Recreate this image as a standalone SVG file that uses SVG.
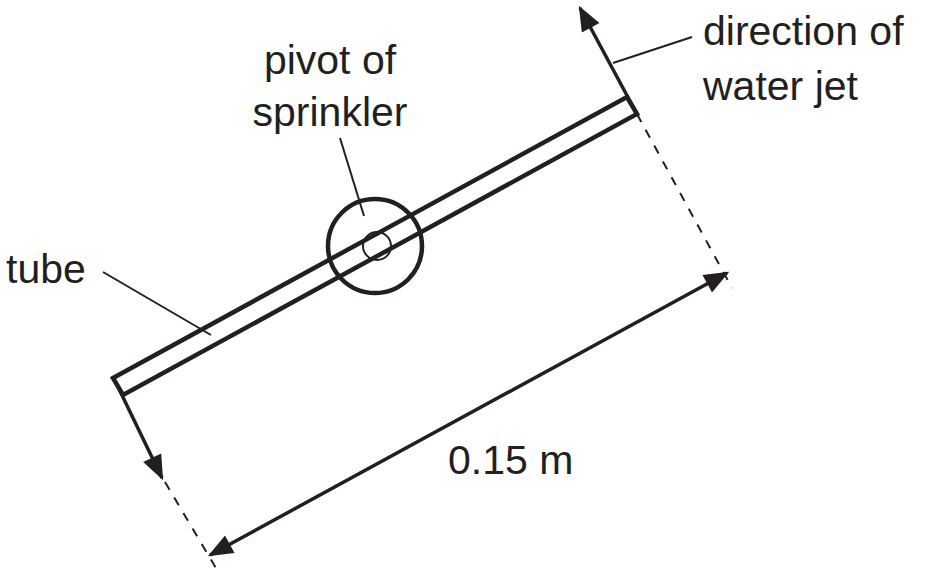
<svg xmlns="http://www.w3.org/2000/svg" width="934" height="573" viewBox="0 0 934 573">
<style>
text{font-family:"Liberation Sans",Arial,sans-serif;font-size:41px;fill:#231f20}
.t{stroke:#231f20;stroke-width:4.5;fill:none}
.l{stroke:#231f20;stroke-width:2;fill:none}
.d{stroke:#231f20;stroke-width:2;fill:none;stroke-dasharray:9 9}
.a{stroke:#231f20;stroke-width:3.5;fill:none}
</style>
<defs>
<marker id="ahb" viewBox="0 0 10 8" refX="9" refY="4" markerWidth="28" markerHeight="20" orient="auto-start-reverse" markerUnits="userSpaceOnUse"><path d="M0,0L10,4L0,8z" fill="#231f20"/></marker>
</defs>
<g id="pivot">
<circle class="t" cx="375" cy="246" r="47"/>
<circle class="l" cx="377" cy="246" r="14" stroke-width="2.5"/>
</g>
<g id="tube">
<polygon points="113,378 627,97 637,114 123,395" fill="#fff" class="t"/>
</g>
<g id="connectors">
<line class="d" x1="637" y1="114" x2="732" y2="288"/>
<line class="d" x1="165" y1="482" x2="216" y2="568"/>
<line class="a" x1="210" y1="555" x2="727" y2="273" marker-start="url(#ahb)" marker-end="url(#ahb)"/>
<line class="a" x1="638" y1="116" x2="580" y2="8" marker-end="url(#ahb)"/>
<line class="a" x1="119" y1="389" x2="162" y2="478" marker-end="url(#ahb)"/>
<line class="l" x1="613" y1="63" x2="692" y2="37"/>
<line class="l" x1="103" y1="272" x2="211" y2="335"/>
<line class="l" x1="340" y1="138" x2="364" y2="216"/>
</g>
<g id="labels">
<text x="330" y="74" text-anchor="middle">pivot of</text>
<text x="330" y="126" text-anchor="middle">sprinkler</text>
<text x="703" y="45">direction of</text>
<text x="703" y="100">water jet</text>
<text x="6" y="283">tube</text>
<text x="448" y="474">0.15 m</text>
</g>
</svg>
